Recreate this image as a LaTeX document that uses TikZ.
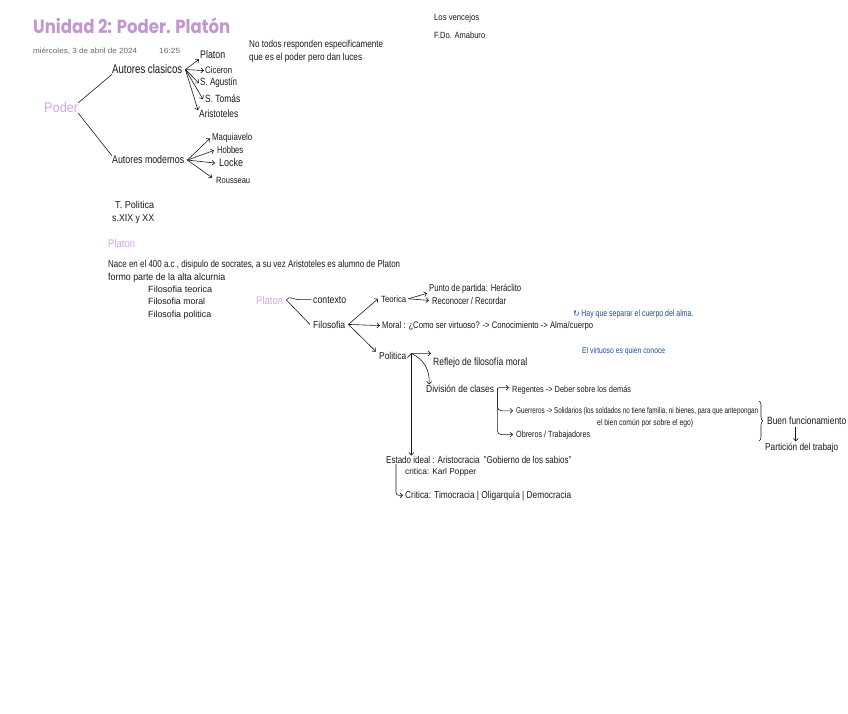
\documentclass[tikz,border=0pt]{standalone}
\usepackage{fontspec}
\usepackage{graphicx}
\setmainfont{Liberation Sans}
\newfontfamily\titlefont{Poppins}
\newfontfamily\dvfont{DejaVu Sans}
\usetikzlibrary{arrows.meta,decorations.pathreplacing}
\definecolor{ink}{RGB}{25,25,25}
\definecolor{lil}{RGB}{196,150,206}
\definecolor{pod}{RGB}{214,165,236}
\definecolor{blu}{RGB}{30,75,160}
\definecolor{gry}{RGB}{105,105,105}
\newcommand\fw[2]{\resizebox{#1pt}{\height}{#2}}
\begin{document}
\begin{tikzpicture}[x=1pt,y=-1pt,
  >={Straight Barb[length=2.6pt,width=5pt]},
  hw/.style={inner sep=0pt, anchor=base west, text=ink, font=\fontsize{#1}{#1}\selectfont},
  hw/.default=9,
  ln/.style={draw=ink, line width=0.6pt, line cap=round, line join=round}]
\useasboundingbox (0,0) rectangle (848,714);
\fill[white] (0,0) rectangle (848,714);

% header
\node[inner sep=0pt, anchor=base west, text=lil, font=\titlefont\bfseries\fontsize{19}{19}\selectfont] (title) at (33,34) {\fw{197}{Unidad 2: Poder. Platón}};
\node[hw=7.5, text=gry] (date) at (33,54) {\fw{104}{miércoles, 3 de abril de 2024}};
\node[hw=7.5, text=gry] (time) at (159,54) {\fw{21}{16:25}};
\node[hw=10] (nt1) at (249,48) {\fw{134}{No todos responden especificamente}};
\node[hw=10] (nt2) at (249,61) {\fw{113}{que es el poder pero dan luces}};
\node[hw=9] (venc) at (434,21) {\fw{45}{Los vencejos}};
\node[hw=9] (fdo) at (434,39) {\fw{51}{F.Do. Amaburo}};

% Poder tree
\node[hw=14, text=pod] (poder) at (44,113) {\fw{34}{Poder}};
\node[hw=12.5] (clas) at (112,74) {\fw{70}{Autores clasicos}};
\node[hw=11] (plat) at (200,59) {\fw{25}{Platon}};
\node[hw=9.5] (cic) at (205,74) {\fw{27}{Ciceron}};
\node[hw=10.5] (agu) at (200,86) {\fw{37}{S. Agustín}};
\node[hw=10.5] (tom) at (205,103) {\fw{35}{S. Tomás}};
\node[hw=10.5] (ari) at (199,118) {\fw{39}{Aristoteles}};
\node[hw=11] (mod) at (112,164) {\fw{72}{Autores modernos}};
\node[hw=10] (maq) at (212,141) {\fw{40}{Maquiavelo}};
\node[hw=10] (hob) at (217,154) {\fw{26}{Hobbes}};
\node[hw=11] (loc) at (219,167) {\fw{24}{Locke}};
\node[hw=9] (rou) at (216,184) {\fw{34}{Rousseau}};

\draw[ln] (poder.north east) -- (clas.south west);
\draw[ln] (poder.south east) -- (mod.north west);
\coordinate (cs) at ([xshift=3pt]clas.east);
\draw[ln,->] (cs) -- ([xshift=-1pt]plat.south west);
\draw[ln,->] (cs) -- ([xshift=-1pt]cic.west);
\draw[ln,->] (cs) -- ([xshift=-1pt]agu.west);
\draw[ln,->] (cs) -- ([xshift=-2pt]tom.west);
\draw[ln,->] (cs) -- ([xshift=-1pt]ari.north west);
\coordinate (ms) at ([xshift=3pt]mod.east);
\draw[ln,->] (ms) -- ([xshift=-2pt]maq.west);
\draw[ln,->] (ms) -- ([xshift=-3pt]hob.west);
\draw[ln,->] (ms) -- ([xshift=-4pt]loc.west);
\draw[ln,->] (ms) -- ([xshift=-4pt]rou.north west);

\node[hw=10] (tpol) at (115,208) {\fw{39}{T. Politica}};
\node[hw=10] (sxix) at (112,222) {\fw{42}{s.XIX y XX}};

% Platon paragraph
\node[hw=11, text=pod] (pl1) at (108,247) {\fw{27}{Platon}};
\node[hw=10] (nace) at (108,267) {\fw{292}{Nace en el 400 a.c , disipulo de socrates, a su vez Aristoteles es alumno de Platon}};
\node[hw=10] (formo) at (108,280) {\fw{117}{formo parte de la alta alcurnia}};
\node[hw=9] (ft) at (148,292) {\fw{64}{Filosofia teorica}};
\node[hw=9] (fm) at (148,304) {\fw{57}{Filosofia moral}};
\node[hw=9] (fp) at (148,317) {\fw{63}{Filosofia politica}};

% Platon tree
\node[hw=11, text=pod] (pl2) at (256,304) {\fw{27}{Platon}};
\node[hw=10.5] (ctx) at (313,303) {\fw{33}{contexto}};
\node[hw=10] (filo) at (313,328) {\fw{32}{Filosofia}};
\node[hw=9] (teo) at (381,302) {\fw{25}{Teorica}};
\node[hw=9.5] (mor) at (382,328) {\fw{211}{Moral : ¿Como ser virtuoso? -> Conocimiento -> Alma/cuerpo}};
\node[hw=10] (pol) at (379,359) {\fw{27}{Politica}};
\node[hw=10] (punto) at (429,291) {\fw{92}{Punto de partida: Heráclito}};
\node[hw=10] (reco) at (432,304) {\fw{74}{Reconocer / Recordar}};
\node[hw=9, text=blu] (sep) at (573,316) {{\dvfont\fontsize{8}{8}\selectfont ↻}\,\fw{112}{Hay que separar el cuerpo del alma.}};
\node[hw=8.5, text=blu] (virt) at (582,353) {\fw{83}{El virtuoso es quien conoce}};
\node[hw=10.5] (refl) at (433,365) {\fw{94}{Reflejo de filosofía moral}};
\node[hw=10] (div) at (426,392) {\fw{68}{División de clases}};
\node[hw=9] (reg) at (512,392) {\fw{119}{Regentes -> Deber sobre los demás}};
\node[hw=8.5] (guer) at (516,413) {\fw{242}{Guerreros -> Solidarios (los soldados no tiene familia, ni bienes, para que antepongan}};
\node[hw=8.5] (guer2) at (597,425) {\fw{96}{el bien común por sobre el ego)}};
\node[hw=9] (obr) at (516,437) {\fw{74}{Obreros / Trabajadores}};
\node[hw=10.5] (buen) at (767,424) {\fw{79}{Buen funcionamiento}};
\node[hw=10] (part) at (765,450) {\fw{73}{Partición del trabajo}};
\node[hw=10] (est) at (386,463) {\fw{185}{Estado ideal : Aristocracia \ "Gobierno de los sabios"}};
\node[hw=8.5] (kp) at (405,474) {\fw{71}{critica: Karl Popper}};
\node[hw=10] (crit) at (405,498) {\fw{166}{Critica: Timocracia | Oligarquía | Democracia}};

\coordinate (ps) at ([xshift=3pt]pl2.east);
\draw[ln] (ps) .. controls +(2,-5) and +(-5,0) .. ([xshift=-14pt]ctx.west) -- ([xshift=-2pt]ctx.west);
\draw[ln] (ps) -- ([xshift=-3pt]filo.west);
\coordinate (fs) at ([xshift=3pt]filo.east);
\draw[ln,->] (fs) -- ([xshift=-3pt]teo.west);
\draw[ln,->] (fs) -- ([xshift=-2pt]mor.west);
\draw[ln,->] (fs) -- ([xshift=-3pt]pol.north west);
\coordinate (ts) at ([xshift=2pt]teo.east);
\draw[ln,->] (ts) -- ([xshift=-2pt]punto.south west);
\draw[ln,->] (ts) -- ([xshift=-3pt]reco.west);

\coordinate (pj) at ([xshift=5pt,yshift=2pt]pol.east);
\draw[ln,->] ([xshift=1pt,yshift=-2pt]pol.east) -- (pj) -- ([xshift=-2pt]pj -| refl.west);
\draw[ln,->] (pj) to[bend left=35] ([xshift=3pt]div.north west);
\draw[ln,->] (pj) -- (pj |- est.north);

\coordinate (dj) at ([xshift=3pt]div.east);
\draw[ln,->,rounded corners=2pt] ([yshift=-2pt]dj) |- ([xshift=-3pt,yshift=2pt]reg.west);
\draw[ln,->,rounded corners=4pt] (dj) |- ([xshift=-3pt]guer.west);
\draw[ln,->,rounded corners=4pt] (dj) |- ([xshift=-3pt]obr.west);

\draw[ln,decorate,decoration={brace,amplitude=4pt}] (759,401) -- (759,441);
\draw[ln,->] ([xshift=-6pt,yshift=-3pt]part.north |- buen.south) -- ([xshift=-6pt,yshift=1pt]part.north);

\draw[ln,->,rounded corners=3pt] ([xshift=10pt,yshift=-1pt]est.south west) |- ([xshift=-2pt]crit.west);
\end{tikzpicture}
\end{document}
